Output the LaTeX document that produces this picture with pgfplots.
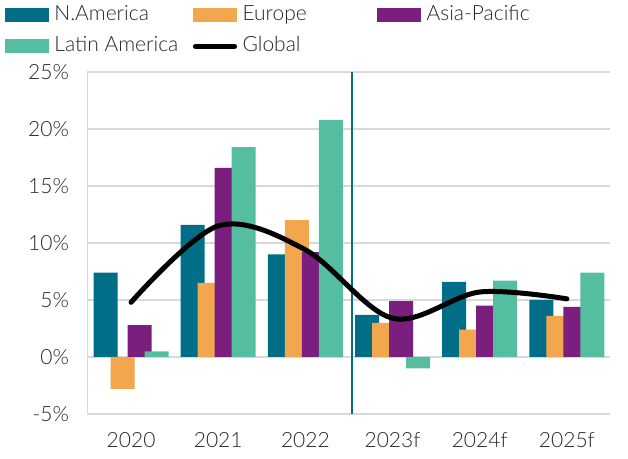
\documentclass[border=0pt]{standalone}
\usepackage{pgfplots}
\pgfplotsset{compat=1.18}
\usepackage{fontspec}
\setmainfont{Lato}[UprightFont={* Light}]
\definecolor{na}{HTML}{006E87}
\definecolor{eu}{HTML}{F2A64E}
\definecolor{ap}{HTML}{7A1F7D}
\definecolor{la}{HTML}{55BEA0}
\definecolor{gridc}{HTML}{D9D9D9}
\definecolor{txt}{HTML}{262626}
\pgfplotsset{
  barlegend/.style={legend image code/.code={\fill[#1] (0pt,-3.5pt) rectangle (22pt,3.5pt);}},
  linelegend/.style={legend image code/.code={\draw[#1, line width=2.5pt, line cap=round] (1.2pt,0pt) -- (20.8pt,0pt);}},
}
\begin{document}
\begin{tikzpicture}
\begin{axis}[
  width=261.5pt, height=171pt, scale only axis,
  xmin=-0.5, xmax=5.5, ymin=-5, ymax=25,
  xtick={0,1,2,3,4,5},
  xticklabels={2020,2021,2022,2023f,2024f,2025f},
  ytick={-5,0,5,10,15,20,25},
  yticklabel={\pgfmathprintnumber{\tick}\%},
  /pgf/number format/assume math mode=true,
  ymajorgrids, major grid style={draw=gridc, line width=0.6pt},
  axis lines*=left,
  axis line style={draw=gridc, line width=0.6pt},
  major tick length=0pt,
  tick label style={font=\fontsize{10.5}{12}\selectfont, text=txt},
  xticklabel style={yshift=-5.5pt},
  yticklabel style={xshift=-5.75pt},
  legend columns=3,
  legend style={at={(axis description cs:0,1)}, anchor=north west,
    xshift=-41.5pt, yshift=34.5pt, draw=none, fill=none,
    inner sep=0pt, column sep=0pt, row sep=3.5pt,
    font=\fontsize{10.5}{12}\selectfont, text=txt,
    nodes={inner sep=1.25pt, text height=7.5pt, text depth=2pt}},
  legend cell align=left,
]
\addplot[ybar, bar width=12pt, bar shift=-12.75pt, fill=na, draw=none, barlegend]
  coordinates {(0,7.4) (1,11.6) (2,9.0) (3,3.7) (4,6.6) (5,5.0)};
\addlegendentry{\hspace{1.5pt}\makebox[68pt][l]{N.America}}
\addplot[ybar, bar width=12pt, bar shift=-4.25pt, fill=eu, draw=none, barlegend]
  coordinates {(0,-2.8) (1,6.5) (2,12.0) (3,3.0) (4,2.4) (5,3.6)};
\addlegendentry{\hspace{1.5pt}\makebox[66pt][l]{Europe}}
\addplot[ybar, bar width=12pt, bar shift=4.25pt, fill=ap, draw=none, barlegend]
  coordinates {(0,2.8) (1,16.6) (2,9.2) (3,4.9) (4,4.5) (5,4.4)};
\addlegendentry{\hspace{1.5pt}\makebox[60pt][l]{Asia-Pacific}}
\addplot[ybar, bar width=12pt, bar shift=12.75pt, fill=la, draw=none, barlegend]
  coordinates {(0,0.5) (1,18.4) (2,20.8) (3,-1.0) (4,6.7) (5,7.4)};
\addlegendentry{\hspace{1.5pt}\makebox[68pt][l]{Latin America}}
\addplot[na, line width=1pt, forget plot] coordinates {(2.53,-5) (2.53,25)};
\addplot[black, line width=2.5pt, line cap=round, smooth, tension=0.55, linelegend]
  coordinates {(0,4.8) (1,11.5) (2,9.4) (3,3.4) (4,5.7) (5,5.1)};
\addlegendentry{\hspace{1.5pt}\makebox[66pt][l]{Global}}
\end{axis}
\pgfresetboundingbox
\path (-43.75pt,-22.5pt) rectangle (270.25pt,207pt);
\end{tikzpicture}
\end{document}
